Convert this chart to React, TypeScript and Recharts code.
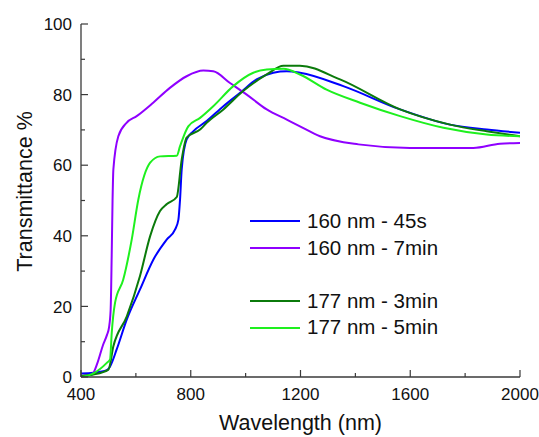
import React from 'react';
import { LineChart, Line, XAxis, YAxis, Legend } from 'recharts';

const FONT = '"Liberation Sans", Arial, Helvetica, sans-serif';
const AXIS = '#3a3a3a';

// wavelength (nm) and transmittance (%), one pair per sample
const wl45s = [400, 445, 494, 506, 530, 567, 615, 664, 713, 743, 755, 761, 767, 785, 809, 858, 919, 980, 1040, 1101, 1150, 1198, 1356, 1563, 1745, 1879, 2000];
const tr45s = [1, 1.2, 1.9, 3, 7.8, 16.3, 24.8, 33.3, 39, 41.8, 44.6, 50.3, 58.8, 67.3, 69.6, 72.5, 76.7, 80.5, 84.3, 86.2, 86.6, 86.2, 82.4, 75.8, 71.5, 70.1, 69.2];

const wl7min = [400, 440, 460, 480, 495, 502, 508, 512, 515, 518, 536, 566, 603, 663, 724, 785, 846, 882, 943, 1004, 1077, 1150, 1198, 1271, 1411, 1599, 1830, 1927, 2000];
const tr7min = [0.3, 0.7, 4, 9, 12, 14, 19, 35, 50, 58.8, 68.2, 72, 73.9, 77.7, 81.9, 85.2, 86.8, 86.6, 83.3, 80, 75.8, 72.9, 71, 68.2, 65.9, 64.9, 64.9, 66.1, 66.3];

const wl3min = [400, 445, 500, 518, 567, 615, 652, 688, 713, 749, 767, 785, 834, 858, 919, 991, 1077, 1138, 1198, 1344, 1563, 1745, 1879, 2000];
const tr3min = [0.3, 0.7, 2.1, 8.7, 17.2, 28.6, 39.9, 47, 49, 51, 61.6, 67.8, 70.1, 72, 75.8, 81, 85.7, 88.2, 88.2, 84.3, 75.8, 71.5, 69.6, 68.2];

const wl5min = [400, 445, 494, 506, 512, 524, 554, 585, 609, 652, 688, 749, 761, 791, 834, 882, 955, 1028, 1077, 1138, 1198, 1295, 1417, 1563, 1721, 1879, 2000];
const tr5min = [0, 1, 4, 5, 12.5, 21, 27.6, 39, 50.3, 60.7, 62.5, 62.7, 65.4, 71, 73.4, 76.7, 82.4, 86.2, 87.1, 87.3, 85.7, 81.4, 77.7, 73.9, 70.6, 68.7, 68.2];

const xTicks = [400, 600, 800, 1000, 1200, 1400, 1600, 1800, 2000];
const xLabels = [400, 800, 1200, 1600, 2000];
const yTicks = [0, 10, 20, 30, 40, 50, 60, 70, 80, 90, 100];
const yLabels = [0, 20, 40, 60, 80, 100];

const series = [
  { name: '160 nm - 45s', color: '#0000ff', wl: wl45s, tr: tr45s },
  { name: '160 nm - 7min', color: '#8f00ff', wl: wl7min, tr: tr7min },
  { name: '177 nm - 3min', color: '#0b7a0b', wl: wl3min, tr: tr3min },
  { name: '177 nm - 5min', color: '#1ef01e', wl: wl5min, tr: tr5min },
];

const toPoints = (wl: number[], tr: number[]) => wl.map((x, i) => ({ x, y: tr[i] }));

const tickText = { fontFamily: FONT, fontSize: 17, fill: '#111' };

const BottomTick = ({ x, y, payload }: any) => {
  const major = xLabels.includes(payload.value);
  return (
    <g>
      <line x1={x} x2={x} y1={y} y2={y - (major ? 7 : 4)} stroke={AXIS} strokeWidth={1.2} />
      {major && (
        <text x={x} y={y + 23} textAnchor="middle" {...tickText}>
          {payload.value}
        </text>
      )}
    </g>
  );
};

const TopTick = ({ x, y, payload }: any) => {
  const major = xLabels.includes(payload.value);
  return <line x1={x} x2={x} y1={y} y2={y + (major ? 7 : 4)} stroke={AXIS} strokeWidth={1.2} />;
};

const LeftTick = ({ x, y, payload }: any) => {
  const major = yLabels.includes(payload.value);
  return (
    <g>
      <line x1={x} x2={x + (major ? 7 : 4)} y1={y} y2={y} stroke={AXIS} strokeWidth={1.2} />
      {major && (
        <text x={x - 9} y={y} dy="0.36em" textAnchor="end" {...tickText}>
          {payload.value}
        </text>
      )}
    </g>
  );
};

const RightTick = ({ x, y, payload }: any) => {
  const major = yLabels.includes(payload.value);
  return <line x1={x} x2={x - (major ? 7 : 4)} y1={y} y2={y} stroke={AXIS} strokeWidth={1.2} />;
};

const XTitle = ({ viewBox }: any) => (
  <text x={viewBox.x + viewBox.width / 2} y={429.5} textAnchor="middle" fontFamily={FONT} fontSize={21.5} fill="#111">
    Wavelength (nm)
  </text>
);

const YTitle = () => (
  <text x={31.5} y={191.5} transform="rotate(-90 31.5 191.5)" textAnchor="middle" fontFamily={FONT} fontSize={21.5} fill="#111">
    Transmittance %
  </text>
);

const Note = () => (
  <text x={358} y={49.5} fontFamily={FONT} fontSize={20.5} fill="#111">
    long ipa wash
  </text>
);

const LegendBox = () => (
  <div style={{ fontFamily: FONT, fontSize: 20.5, color: '#111' }}>
    {series.map((s, i) => (
      <div key={s.name} style={{ display: 'flex', alignItems: 'center', height: 26.6, marginTop: i === 2 ? 26.6 : 0 }}>
        <svg width={50} height={4} style={{ display: 'block' }}>
          <line x1={0} x2={50} y1={2} y2={2} stroke={s.color} strokeWidth={2} />
        </svg>
        <span style={{ marginLeft: 7, lineHeight: 1, whiteSpace: 'nowrap' }}>{s.name}</span>
      </div>
    ))}
  </div>
);

export default function App() {
  return (
    <div style={{ width: 539, height: 437, background: '#fff' }}>
      <style>{'body{margin:0}'}</style>
      <LineChart width={539} height={437} margin={{ top: 24, right: 19, bottom: 0, left: 0 }}>
        <XAxis
          xAxisId="bottom"
          type="number"
          dataKey="x"
          domain={[400, 2000]}
          allowDataOverflow
          ticks={xTicks}
          interval={0}
          height={60}
          tickSize={0}
          tickMargin={0}
          tick={<BottomTick />}
          axisLine={{ stroke: AXIS, strokeWidth: 1.3 }}
          label={<XTitle />}
        />
        <XAxis
          xAxisId="top"
          orientation="top"
          type="number"
          dataKey="x"
          domain={[400, 2000]}
          allowDataOverflow
          ticks={xTicks}
          interval={0}
          height={0}
          tickSize={0}
          tickMargin={0}
          tick={<TopTick />}
          axisLine={{ stroke: AXIS, strokeWidth: 1.3 }}
          label={<Note />}
        />
        <YAxis
          yAxisId="left"
          type="number"
          domain={[0, 100]}
          allowDataOverflow
          ticks={yTicks}
          interval={0}
          width={81}
          tickSize={0}
          tickMargin={0}
          tick={<LeftTick />}
          axisLine={{ stroke: AXIS, strokeWidth: 1.3 }}
          label={<YTitle />}
        />
        <YAxis
          yAxisId="right"
          orientation="right"
          type="number"
          domain={[0, 100]}
          allowDataOverflow
          ticks={yTicks}
          interval={0}
          width={0}
          tickSize={0}
          tickMargin={0}
          tick={<RightTick />}
          axisLine={{ stroke: AXIS, strokeWidth: 1.3 }}
        />
        {series.map((s) => (
          <Line
            key={s.name}
            xAxisId="bottom"
            yAxisId="left"
            data={toPoints(s.wl, s.tr)}
            dataKey="y"
            name={s.name}
            type="monotone"
            stroke={s.color}
            strokeWidth={2}
            dot={false}
            isAnimationActive={false}
          />
        ))}
        <Legend
          layout="vertical"
          align="center"
          verticalAlign="middle"
          content={<LegendBox />}
          wrapperStyle={{ left: 250, top: 208, width: 240, height: 'auto' }}
        />
      </LineChart>
    </div>
  );
}
